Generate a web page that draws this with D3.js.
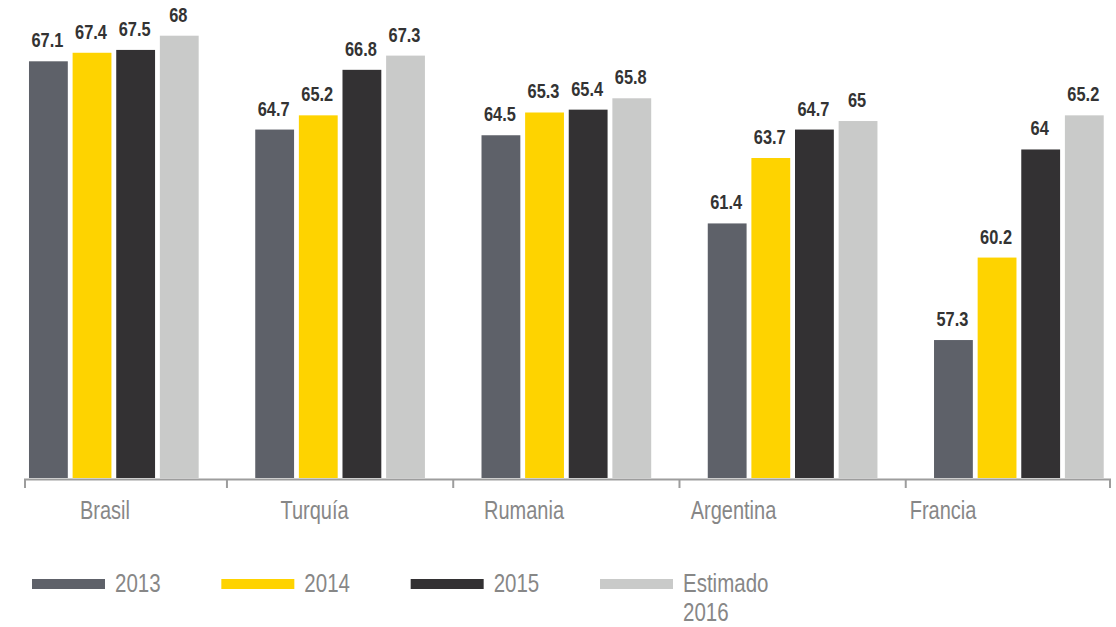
<!DOCTYPE html>
<html>
<head>
<meta charset="utf-8">
<script src="https://cdn.jsdelivr.net/npm/d3@7"></script>
<style>
  html, body { margin: 0; padding: 0; background: #fff; }
  svg { display: block; }
  .cond { font-family: "Liberation Sans", Arial, Helvetica, sans-serif; }
</style>
</head>
<body>
<svg id="chart" width="1116" height="627"></svg>
<script>
// Countries and yearly series
const countries = ["Brasil", "Turquía", "Rumania", "Argentina", "Francia"];
const seriesKeys = ["2013", "2014", "2015", "2016"];
const values2013 = [67.1, 64.7, 64.5, 61.4, 57.3];
const values2014 = [67.4, 65.2, 65.3, 63.7, 60.2];
const values2015 = [67.5, 66.8, 65.4, 64.7, 64.0];
const values2016 = [68.0, 67.3, 65.8, 65.0, 65.2];
const legendLabels = [["2013"], ["2014"], ["2015"], ["Estimado", "2016"]];
const seriesColors = ["#5e6169", "#fed300", "#333133", "#c9cac9"];

const seriesValues = [values2013, values2014, values2015, values2016];
const rows = countries.map((c, i) => ({
  country: c,
  vals: seriesKeys.map((k, j) => ({ key: k, value: seriesValues[j][i], idx: j }))
}));

// Narrow text: regular face squeezed horizontally
const place = (sel, fx, fy, sx) =>
  sel.attr("transform", (d, i) => `translate(${fx(d, i)},${fy(d, i)}) scale(${sx},1)`);

const svg = d3.select("#chart");

const baseY = 478;
const y = d3.scaleLinear().domain([52.45, 68]).range([baseY, 35.7]);

const x0 = d3.scaleBand().domain(countries).range([0.7, 1132])
  .paddingInner(0.25).paddingOuter(0.125);
const x1 = d3.scaleBand().domain(seriesKeys).range([0, x0.bandwidth()])
  .paddingInner(0.11).paddingOuter(0);
const color = d3.scaleOrdinal().domain(seriesKeys).range(seriesColors);

// Bars
const groups = svg.append("g").selectAll("g").data(rows).join("g")
  .attr("transform", d => `translate(${x0(d.country)},0)`);

groups.selectAll("rect").data(d => d.vals).join("rect")
  .attr("x", d => x1(d.key))
  .attr("y", d => y(d.value))
  .attr("width", x1.bandwidth())
  .attr("height", d => baseY - y(d.value))
  .attr("fill", d => color(d.key));

// Value labels
groups.selectAll("text").data(d => d.vals).join("text")
  .attr("class", "cond")
  .attr("text-anchor", "middle")
  .attr("font-size", 20)
  .attr("font-weight", "bold")
  .attr("fill", "#333333")
  .call(place, d => x1(d.key) + x1.bandwidth() / 2 - 1, d => y(d.value) - 14, 0.82)
  .text(d => d3.format("~f")(d.value));

// Category axis: baseline with ticks at the group boundaries
const axisLeft = 25, axisRight = 1110;
const step = x0.step();
const boundaries = [axisLeft]
  .concat(countries.slice(1).map(c => x0(c) - step * x0.paddingInner() / 2))
  .concat([axisRight]);

const axis = svg.append("g");
axis.append("line")
  .attr("x1", axisLeft - 1).attr("x2", axisRight + 1)
  .attr("y1", 479.5).attr("y2", 479.5)
  .attr("stroke", "#9d9d9d").attr("stroke-width", 2);
axis.selectAll("line.tick").data(boundaries).join("line")
  .attr("class", "tick")
  .attr("x1", d => d).attr("x2", d => d)
  .attr("y1", 479).attr("y2", 488)
  .attr("stroke", "#9d9d9d").attr("stroke-width", 2);

const labelX = d3.scalePoint().domain(countries).range([105, 943]);
axis.selectAll("text").data(countries).join("text")
  .attr("class", "cond")
  .attr("text-anchor", "middle")
  .attr("font-size", 25)
  .attr("fill", "#878787")
  .call(place, d => labelX(d), () => 519, 0.8)
  .text(d => d);

// Legend
const legendX = d3.scalePoint().domain(seriesKeys).range([32, 600]);
const legend = svg.append("g").selectAll("g").data(seriesKeys).join("g")
  .attr("transform", d => `translate(${legendX(d)},0)`);
legend.append("rect")
  .attr("x", 0).attr("y", 579)
  .attr("width", 73).attr("height", 10)
  .attr("fill", d => color(d));
legend.selectAll("text").data(d => legendLabels[seriesKeys.indexOf(d)]).join("text")
  .attr("class", "cond")
  .attr("font-size", 25)
  .attr("fill", "#878787")
  .call(place, () => 83, (d, i) => 592 + i * 28.5, 0.82)
  .text(d => d);
</script>
</body>
</html>
